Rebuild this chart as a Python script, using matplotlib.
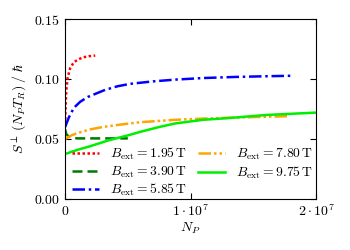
import matplotlib
matplotlib.use("Agg")
from matplotlib import pyplot as plt

plt.rcParams["font.family"] = "serif"
plt.rcParams["font.serif"] = ["DejaVu Serif"]
plt.rcParams["mathtext.fontset"] = "cm"

# number of pulses N_P (in units of 1e6) and S_perp(N_P T_R)/hbar
x_195 = [0, 0.05, 0.1, 0.2, 0.4, 0.7, 1.0, 1.4, 1.9, 2.4]
y_195 = [0.062, 0.080, 0.091, 0.101, 0.109, 0.114, 0.116, 0.118, 0.119, 0.1195]

x_390 = [0, 0.1, 0.3, 0.6, 1.0, 2.0, 3.0, 4.0, 5.0]
y_390 = [0.058, 0.054, 0.052, 0.051, 0.0505, 0.0505, 0.0505, 0.0505, 0.0505]

x_585 = [0, 0.3, 0.7, 1.2, 1.8, 2.5, 3.2, 4.2, 5.2, 7.0, 8.8, 11.0, 13.5, 16.0, 18.1]
y_585 = [0.060, 0.068, 0.076, 0.081, 0.085, 0.088, 0.091, 0.094, 0.096, 0.098,
         0.0995, 0.1008, 0.1017, 0.1023, 0.1027]

x_780 = [0, 0.5, 1.0, 2.0, 3.0, 4.4, 6.0, 8.8, 11.0, 14.0, 17.8]
y_780 = [0.050, 0.053, 0.055, 0.058, 0.060, 0.062, 0.064, 0.066, 0.067, 0.068, 0.069]

x_975 = [0, 1.0, 2.0, 3.5, 5.0, 6.0, 7.5, 8.8, 11.0, 13.1, 16.0, 20.0]
y_975 = [0.0375, 0.041, 0.044, 0.049, 0.053, 0.056, 0.060, 0.063, 0.066, 0.0675,
         0.070, 0.072]

fields = ["1.95", "3.90", "5.85", "7.80", "9.75"]

fig = plt.figure(figsize=(3.5, 2.5), dpi=100)
ax = fig.add_axes([0.186, 0.204, 0.717, 0.72])

sc = 1e6
ax.plot([v * sc for v in x_195], y_195, color="red", lw=1.8, ls=(0, (1, 1)),
        label=r"$B_{\rm ext} = %s\,\mathrm{T}$" % fields[0])
ax.plot([v * sc for v in x_390], y_390, color="#007a00", lw=1.8, ls=(0, (4, 2)),
        label=r"$B_{\rm ext} = %s\,\mathrm{T}$" % fields[1])
ax.plot([v * sc for v in x_585], y_585, color="blue", lw=1.8, ls=(0, (5, 1.5, 1, 1.5)),
        label=r"$B_{\rm ext} = %s\,\mathrm{T}$" % fields[2])
ax.plot([v * sc for v in x_780], y_780, color="orange", lw=1.8,
        ls=(0, (5, 1.2, 1, 1.2, 1, 1.2)),
        label=r"$B_{\rm ext} = %s\,\mathrm{T}$" % fields[3])
ax.plot([v * sc for v in x_975], y_975, color="#00ee00", lw=1.8, ls="-",
        label=r"$B_{\rm ext} = %s\,\mathrm{T}$" % fields[4])

ax.set_xlim(0, 2e7)
ax.set_ylim(0, 0.15)
ax.set_xticks([0, 1e7, 2e7])
ax.set_xticklabels([r"$0$", r"$1\cdot10^7$", r"$2\cdot10^7$"])
ax.set_yticks([0, 0.05, 0.10, 0.15])
ax.set_yticklabels([r"$0.00$", r"$0.05$", r"$0.10$", r"$0.15$"])
ax.tick_params(direction="in", top=True, right=True, labelsize=10, length=4)
ax.set_xlabel(r"$N_P$", fontsize=10, labelpad=1)
ax.set_ylabel(r"$S^{\perp}\,(N_P T_R)\;/\;\hbar$", fontsize=10)
ax.legend(ncol=2, loc="lower right", frameon=False, fontsize=9.8,
          handlelength=2.0, columnspacing=0.8, labelspacing=0.15,
          handletextpad=0.8, borderaxespad=0.0,
          bbox_to_anchor=(1.01, -0.025))

fig.savefig("out.png", dpi=100)
